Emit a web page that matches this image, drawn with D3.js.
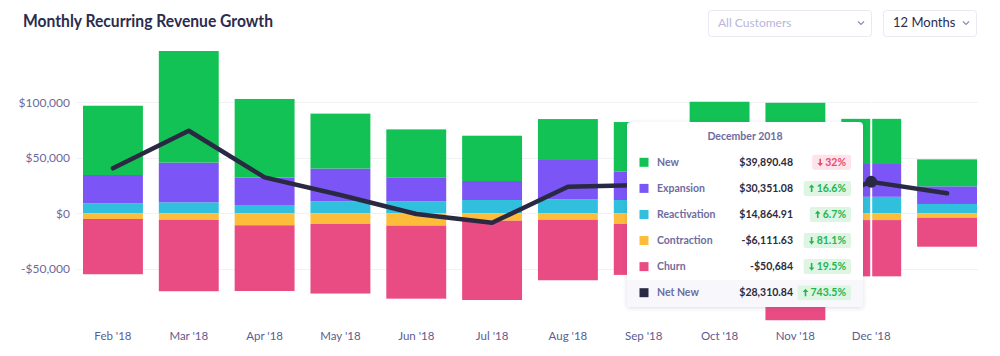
<!DOCTYPE html>
<html>
<head>
<meta charset="utf-8">
<script src="https://cdn.jsdelivr.net/npm/d3@7"></script>
<style>
  html, body { margin: 0; padding: 0; background: #fff; }
  svg { display: block; font-family: Lato, "Open Sans", sans-serif; }
</style>
</head>
<body>
<svg id="chart" width="1000" height="356"></svg>
<script>
// ---- data ----
const months = ["Feb '18","Mar '18","Apr '18","May '18","Jun '18","Jul '18","Aug '18","Sep '18","Oct '18","Nov '18","Dec '18","Jan '19"];
const tickLabels = ["Feb '18","Mar '18","Apr '18","May '18","Jun '18","Jul '18","Aug '18","Sep '18","Oct '18","Nov '18","Dec '18",""];
const newRev       = [62400, 100500, 70800, 49500, 43200, 40800, 36900, 44700, 56000, 59600, 39890.48, 24300];
const expansion    = [25500, 35800, 24700, 29500, 21600, 17100, 35400, 25500, 29000, 26030, 30351.08, 15900];
const reactivation = [9000, 9900, 7500, 10800, 10800, 12000, 12600, 12000, 15500, 13931, 14864.91, 8400];
const contraction  = [-5100, -6000, -10800, -9600, -11100, -6700, -6000, -9600, -9500, -32337, -6111.63, -4000];
const churn        = [-49800, -64200, -59200, -62700, -65800, -71400, -54300, -45900, -58000, -64000, -50684, -26100];
const netNew       = [40500, 74400, 32400, 16500, -600, -8500, 24000, 25500, 33000, 3324, 28310.84, 18000];
const yTicks = [-50000, 0, 50000, 100000];

const seriesNames = ["New","Expansion","Reactivation","Contraction","Churn","Net New"];
const seriesColors = ["#12c254","#7b55f5","#30bfdd","#fdbd3b","#e94b83","#2a2944"];
const tipMonth = "December 2018";
const tipValues = ["$39,890.48","$30,351.08","$14,864.91","-$6,111.63","-$50,684","$28,310.84"];
const tipChanges = ["32%","16.6%","6.7%","81.1%","19.5%","743.5%"];
const tipDirs = ["down","up","up","down","down","up"];
const tipGood = [false,true,true,true,true,true];
const hoverIndex = 10;

// ---- layout ----
const svg = d3.select("#chart");
const x = d3.scaleBand().domain(months).range([83, 977]).paddingInner(0.21).paddingOuter(0);
const y = d3.scaleLinear().domain([-50000, 100000]).range([268.8, 102.3]);

// title
svg.append("text").attr("x", 23).attr("y", 27)
  .attr("font-size", 16.5).attr("font-weight", 700).attr("fill", "#2b2c4e")
  .attr("textLength", 250).attr("lengthAdjust", "spacingAndGlyphs")
  .text("Monthly Recurring Revenue Growth");

// dropdowns
function dropdown(x0, w, label, color, size) {
  const g = svg.append("g");
  g.append("rect").attr("x", x0 + 0.5).attr("y", 10.5).attr("width", w).attr("height", 26)
    .attr("rx", 3).attr("fill", "#fff").attr("stroke", "#e9e8f4");
  g.append("text").attr("x", x0 + 10).attr("y", 27).attr("font-size", size)
    .attr("fill", color).text(label);
  const cx = x0 + w - 10, cy = 23;
  g.append("path").attr("d", `M${cx-3},${cy-1.5} L${cx},${cy+1.5} L${cx+3},${cy-1.5}`)
    .attr("fill", "none").attr("stroke", "#8f8eab").attr("stroke-width", 1.2);
}
dropdown(708, 163, "All Customers", "#b7b5dc", 12);
dropdown(883, 93, "12 Months", "#2b2c4e", 13);

// grid
svg.append("g").selectAll("line").data(yTicks).join("line")
  .attr("x1", 76).attr("x2", 978)
  .attr("y1", d => Math.round(y(d)) + 0.5).attr("y2", d => Math.round(y(d)) + 0.5)
  .attr("stroke", "#f1f1f6");

// y axis
const fmt = d3.format(",");
const yAxis = svg.append("g").attr("transform", "translate(72,0)")
  .call(d3.axisLeft(y).tickValues(yTicks).tickSize(0).tickPadding(2)
    .tickFormat(v => (v < 0 ? "-$" : "$") + fmt(Math.abs(v))));
yAxis.select(".domain").remove();
yAxis.selectAll("text").attr("font-size", 12).attr("fill", "#6c6a9c")
  .attr("font-family", "Lato, sans-serif");

// x axis
const xAxis = svg.append("g").attr("transform", "translate(0,332)")
  .call(d3.axisBottom(x).tickSize(0).tickPadding(0)
    .tickFormat((d, i) => tickLabels[i]));
xAxis.select(".domain").remove();
xAxis.selectAll("text").attr("font-size", 11.5).attr("fill", "#5d5c8f")
  .attr("font-family", "Lato, sans-serif").attr("dy", "0.7em");

// stacked bars
const posSeries = [reactivation, expansion, newRev];
const posColors = [seriesColors[2], seriesColors[1], seriesColors[0]];
const negSeries = [contraction, churn];
const negColors = [seriesColors[3], seriesColors[4]];
const barsG = svg.append("g");
months.forEach((m, i) => {
  let base = 0;
  posSeries.forEach((s, k) => {
    const top = base + s[i];
    barsG.append("rect").attr("x", x(m)).attr("width", x.bandwidth())
      .attr("y", y(top)).attr("height", y(base) - y(top)).attr("fill", posColors[k]);
    base = top;
  });
  base = 0;
  negSeries.forEach((s, k) => {
    const bot = base + s[i];
    barsG.append("rect").attr("x", x(m)).attr("width", x.bandwidth())
      .attr("y", y(base)).attr("height", y(bot) - y(base)).attr("fill", negColors[k]);
    base = bot;
  });
});

// hover cursor line
const hx = x(months[hoverIndex]) + x.bandwidth() / 2;
svg.append("line").attr("x1", hx).attr("x2", hx).attr("y1", 45).attr("y2", 325)
  .attr("stroke", "#fff").attr("stroke-width", 2);

// net new line
const line = d3.line().x((d, i) => x(months[i]) + x.bandwidth() / 2).y(d => y(d));
svg.append("path").datum(netNew).attr("d", line)
  .attr("fill", "none").attr("stroke", seriesColors[5]).attr("stroke-width", 4.5)
  .attr("stroke-linejoin", "round").attr("stroke-linecap", "round");
svg.append("circle").attr("cx", hx).attr("cy", y(netNew[hoverIndex])).attr("r", 6)
  .attr("fill", seriesColors[5]);

// tooltip
const defs = svg.append("defs");
const f = defs.append("filter").attr("id", "sh").attr("x", "-10%").attr("y", "-10%")
  .attr("width", "120%").attr("height", "125%");
f.append("feDropShadow").attr("dx", 0).attr("dy", 1).attr("stdDeviation", 2)
  .attr("flood-color", "#3a3a6a").attr("flood-opacity", 0.18);
const tx = 627, ty = 122, tw = 236, th = 185;
const tip = svg.append("g");
tip.append("rect").attr("x", tx).attr("y", ty).attr("width", tw).attr("height", th)
  .attr("rx", 4).attr("fill", "#fff").attr("filter", "url(#sh)");
tip.append("clipPath").attr("id", "tipclip").append("rect")
  .attr("x", tx).attr("y", ty).attr("width", tw).attr("height", th).attr("rx", 4);
tip.append("rect").attr("x", tx).attr("y", 280).attr("width", tw).attr("height", th - (280 - ty))
  .attr("fill", "#f8f8fc").attr("clip-path", "url(#tipclip)");
tip.append("text").attr("x", tx + tw / 2).attr("y", 139.5).attr("text-anchor", "middle")
  .attr("font-size", 10.5).attr("font-weight", 700).attr("fill", "#6e6c9f").text(tipMonth);
seriesNames.forEach((name, i) => {
  const cy = 162.3 + i * 26.08;
  tip.append("rect").attr("x", 639.5).attr("y", cy - 4.5).attr("width", 9).attr("height", 9)
    .attr("fill", seriesColors[i]);
  tip.append("text").attr("x", 657).attr("y", cy + 3.6).attr("font-size", 10.5)
    .attr("font-weight", 700).attr("fill", "#6e6c9f").text(name);
  tip.append("text").attr("x", 793).attr("y", cy + 3.6).attr("text-anchor", "end")
    .attr("font-size", 10.5).attr("font-weight", 700).attr("fill", "#2b2b3d").text(tipValues[i]);
  const good = tipGood[i];
  const bg = good ? "#dff5e4" : "#fde3ea";
  const fg = good ? "#24b54e" : "#ea4a72";
  const bt = tip.append("text").attr("y", cy + 3.6).attr("font-size", 10.5)
    .attr("font-weight", 700).attr("fill", fg).attr("text-anchor", "end").attr("x", 846)
    .text(tipChanges[i]);
  const tw2 = bt.node().getComputedTextLength();
  const arrowW = 8;
  const bw = tw2 + arrowW + 10;
  tip.insert("rect", () => bt.node()).attr("x", 851 - bw).attr("y", cy - 7.5)
    .attr("width", bw).attr("height", 15).attr("rx", 2).attr("fill", bg);
  const ax = 846 - tw2 - 5, ay = cy;
  const up = tipDirs[i] === "up";
  const d = up
    ? `M${ax},${ay-4} L${ax-2.8},${ay-0.8} L${ax-0.8},${ay-0.8} L${ax-0.8},${ay+3.5} L${ax+0.8},${ay+3.5} L${ax+0.8},${ay-0.8} L${ax+2.8},${ay-0.8} Z`
    : `M${ax},${ay+4} L${ax-2.8},${ay+0.8} L${ax-0.8},${ay+0.8} L${ax-0.8},${ay-3.5} L${ax+0.8},${ay-3.5} L${ax+0.8},${ay+0.8} L${ax+2.8},${ay+0.8} Z`;
  tip.append("path").attr("d", d).attr("fill", fg);
});
</script>
</body>
</html>
